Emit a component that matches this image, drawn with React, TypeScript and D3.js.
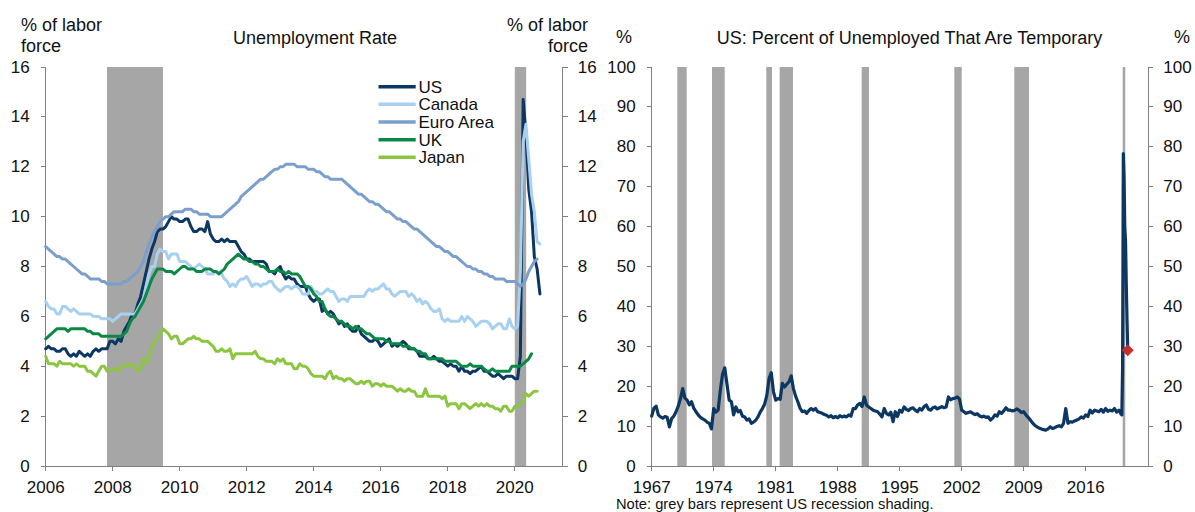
import React from 'react';
import * as d3 from 'd3';

const FONT = "'Liberation Sans', Arial, Helvetica, sans-serif";
const W = 1195;
const H = 512;

// ---- left panel: unemployment rate, monthly from Jan 2006 ----
const leftStartYear = 2006;
const usRate = [
  4.7, 4.8, 4.7, 4.7, 4.6, 4.6, 4.7, 4.7, 4.5, 4.4, 4.5, 4.4,
  4.6, 4.5, 4.4, 4.5, 4.4, 4.6, 4.7, 4.6, 4.7, 4.7, 4.7, 5.0,
  5.0, 4.9, 5.1, 5.0, 5.4, 5.6, 5.8, 6.1, 6.1, 6.5, 6.8, 7.3,
  7.8, 8.3, 8.7, 9.0, 9.4, 9.5, 9.5, 9.6, 9.8, 10.0, 9.9, 9.9,
  9.8, 9.8, 9.9, 9.9, 9.6, 9.4, 9.4, 9.5, 9.5, 9.4, 9.8, 9.3,
  9.1, 9.0, 9.0, 9.1, 9.0, 9.1, 9.0, 9.0, 9.0, 8.8, 8.6, 8.5,
  8.3, 8.3, 8.2, 8.2, 8.2, 8.2, 8.2, 8.1, 7.8, 7.8, 7.7, 7.9,
  8.0, 7.7, 7.5, 7.6, 7.5, 7.5, 7.3, 7.2, 7.2, 7.2, 6.9, 6.7,
  6.6, 6.7, 6.7, 6.2, 6.3, 6.1, 6.2, 6.1, 5.9, 5.7, 5.8, 5.6,
  5.7, 5.5, 5.4, 5.4, 5.6, 5.3, 5.2, 5.1, 5.0, 5.0, 5.1, 5.0,
  4.8, 4.9, 5.0, 5.1, 4.8, 4.9, 4.8, 4.9, 5.0, 4.9, 4.7, 4.7,
  4.7, 4.6, 4.4, 4.4, 4.4, 4.3, 4.3, 4.4, 4.3, 4.2, 4.2, 4.1,
  4.0, 4.1, 4.0, 4.0, 3.8, 4.0, 3.8, 3.8, 3.7, 3.8, 3.8, 3.9,
  4.0, 3.8, 3.8, 3.7, 3.6, 3.6, 3.7, 3.6, 3.5, 3.6, 3.6, 3.6,
  3.5, 3.5, 4.4, 14.7, 13.3, 11.1, 10.2, 8.4, 7.9, 6.9,
];
const canadaRate = [
  6.6, 6.4, 6.3, 6.3, 6.1, 6.1, 6.4, 6.4, 6.3, 6.2, 6.3, 6.2,
  6.1, 6.1, 6.1, 6.1, 6.1, 6.0, 6.0, 6.0, 5.9, 5.9, 5.9, 5.9,
  5.8, 5.9, 6.0, 6.1, 6.1, 6.1, 6.1, 6.1, 6.1, 6.3, 6.5, 6.7,
  7.2, 7.7, 8.0, 8.0, 8.5, 8.7, 8.6, 8.6, 8.3, 8.5, 8.5, 8.5,
  8.2, 8.2, 8.2, 8.1, 8.0, 7.9, 8.0, 8.1, 8.0, 7.9, 7.7, 7.7,
  7.7, 7.8, 7.7, 7.7, 7.5, 7.4, 7.2, 7.3, 7.2, 7.4, 7.5, 7.5,
  7.6, 7.4, 7.2, 7.3, 7.3, 7.2, 7.3, 7.3, 7.4, 7.4, 7.2, 7.1,
  7.0, 7.1, 7.2, 7.2, 7.1, 7.2, 7.2, 7.1, 6.9, 6.9, 6.9, 7.2,
  7.0, 7.0, 6.9, 6.9, 7.0, 7.1, 7.0, 7.0, 6.8, 6.6, 6.7, 6.7,
  6.6, 6.8, 6.8, 6.8, 6.8, 6.8, 6.8, 7.0, 7.1, 7.0, 7.1, 7.1,
  7.2, 7.3, 7.1, 7.1, 6.9, 6.8, 6.9, 7.0, 7.0, 7.0, 6.8, 6.9,
  6.8, 6.6, 6.7, 6.5, 6.6, 6.5, 6.3, 6.2, 6.2, 6.3, 5.9, 5.8,
  5.9, 5.8, 5.8, 5.8, 5.8, 6.0, 5.8, 6.0, 5.9, 5.8, 5.6, 5.7,
  5.8, 5.8, 5.8, 5.7, 5.5, 5.6, 5.7, 5.7, 5.5, 5.5, 5.9, 5.6,
  5.5, 5.6, 7.8, 13.0, 13.7, 12.3, 10.9, 10.2, 9.0, 8.9,
];
const euroRate = [
  8.8, 8.7, 8.6, 8.5, 8.4, 8.4, 8.3, 8.3, 8.2, 8.1, 8.0, 7.9,
  7.8, 7.7, 7.7, 7.6, 7.5, 7.5, 7.5, 7.5, 7.4, 7.4, 7.3, 7.3,
  7.3, 7.3, 7.3, 7.3, 7.4, 7.4, 7.5, 7.6, 7.7, 7.8, 8.0, 8.2,
  8.6, 8.9, 9.2, 9.4, 9.6, 9.8, 9.9, 10.0, 10.0, 10.1, 10.2, 10.2,
  10.2, 10.2, 10.3, 10.3, 10.3, 10.2, 10.2, 10.1, 10.1, 10.1, 10.1, 10.0,
  10.0, 10.0, 10.0, 10.0, 10.1, 10.2, 10.3, 10.4, 10.5, 10.6, 10.8, 10.9,
  11.0, 11.1, 11.2, 11.3, 11.4, 11.5, 11.5, 11.6, 11.7, 11.8, 11.9, 11.9,
  12.0, 12.0, 12.1, 12.1, 12.1, 12.1, 12.0, 12.0, 12.0, 12.0, 11.9, 11.9,
  11.9, 11.8, 11.8, 11.7, 11.6, 11.6, 11.5, 11.5, 11.5, 11.5, 11.5, 11.4,
  11.3, 11.2, 11.1, 11.0, 10.9, 10.9, 10.8, 10.7, 10.6, 10.6, 10.5, 10.5,
  10.4, 10.3, 10.2, 10.2, 10.1, 10.0, 9.9, 9.9, 9.8, 9.8, 9.7, 9.6,
  9.5, 9.5, 9.4, 9.3, 9.2, 9.1, 9.0, 8.9, 8.8, 8.8, 8.7, 8.6,
  8.6, 8.5, 8.4, 8.4, 8.3, 8.2, 8.1, 8.0, 8.0, 7.9, 7.9, 7.8,
  7.8, 7.7, 7.7, 7.6, 7.6, 7.5, 7.5, 7.5, 7.5, 7.4, 7.4, 7.4,
  7.4, 7.3, 7.2, 7.3, 7.5, 7.8, 8.0, 8.2, 8.3,
];
const ukRate = [
  5.1, 5.2, 5.3, 5.4, 5.5, 5.5, 5.5, 5.5, 5.4, 5.5, 5.5, 5.5,
  5.5, 5.5, 5.5, 5.4, 5.4, 5.3, 5.3, 5.3, 5.2, 5.2, 5.2, 5.2,
  5.2, 5.2, 5.2, 5.2, 5.3, 5.4, 5.7, 5.9, 6.0, 6.2, 6.4, 6.6,
  6.9, 7.2, 7.5, 7.7, 7.9, 7.9, 7.9, 7.8, 7.8, 7.8, 7.7, 7.8,
  7.9, 8.0, 8.0, 7.9, 7.9, 7.9, 7.8, 7.8, 7.8, 7.9, 7.9, 7.9,
  7.8, 7.8, 7.7, 7.8, 7.9, 8.1, 8.2, 8.3, 8.4, 8.5, 8.4, 8.3,
  8.3, 8.2, 8.2, 8.1, 8.1, 8.0, 8.0, 7.9, 7.8, 7.8, 7.8, 7.9,
  7.8, 7.8, 7.7, 7.8, 7.7, 7.7, 7.7, 7.6, 7.4, 7.2, 7.2, 7.1,
  6.9, 6.8, 6.6, 6.6, 6.3, 6.1, 6.0, 6.0, 5.9, 5.8, 5.8, 5.7,
  5.6, 5.6, 5.5, 5.6, 5.5, 5.5, 5.4, 5.3, 5.3, 5.2, 5.1, 5.1,
  5.1, 5.1, 5.0, 5.0, 4.9, 4.9, 4.9, 4.9, 4.8, 4.8, 4.8, 4.7,
  4.7, 4.6, 4.6, 4.5, 4.5, 4.3, 4.3, 4.3, 4.3, 4.3, 4.3, 4.2,
  4.2, 4.2, 4.2, 4.2, 4.1, 4.0, 4.0, 4.0, 4.1, 4.0, 4.0, 4.0,
  4.0, 3.9, 3.8, 3.8, 3.9, 3.8, 3.8, 3.8, 3.8, 3.8, 3.8, 4.0,
  4.0, 4.0, 4.0, 4.1, 4.2, 4.3, 4.5,
];
const japanRate = [
  4.4, 4.1, 4.1, 4.1, 4.0, 4.2, 4.1, 4.1, 4.1, 4.1, 4.0, 4.1,
  4.0, 4.0, 4.0, 3.8, 3.8, 3.7, 3.6, 3.8, 4.0, 4.0, 3.8, 3.8,
  3.9, 3.9, 3.8, 4.0, 4.0, 4.1, 4.0, 4.1, 4.0, 3.8, 3.9, 4.3,
  4.1, 4.4, 4.8, 5.0, 5.1, 5.3, 5.5, 5.4, 5.3, 5.1, 5.2, 5.2,
  4.9, 4.9, 5.0, 5.1, 5.1, 5.2, 5.1, 5.1, 5.0, 5.0, 5.0, 4.9,
  4.8, 4.6, 4.6, 4.7, 4.6, 4.6, 4.7, 4.3, 4.5, 4.5, 4.5, 4.5,
  4.5, 4.5, 4.5, 4.6, 4.4, 4.3, 4.3, 4.2, 4.2, 4.2, 4.1, 4.3,
  4.2, 4.3, 4.1, 4.1, 4.1, 3.9, 3.9, 4.1, 4.0, 4.0, 3.9, 3.7,
  3.6, 3.6, 3.6, 3.6, 3.5, 3.7, 3.8, 3.5, 3.6, 3.5, 3.5, 3.4,
  3.5, 3.5, 3.4, 3.3, 3.3, 3.4, 3.3, 3.4, 3.4, 3.2, 3.3, 3.3,
  3.2, 3.3, 3.2, 3.2, 3.2, 3.1, 3.0, 3.1, 3.0, 3.0, 3.1, 3.0,
  3.0, 2.8, 2.8, 2.8, 3.1, 2.8, 2.8, 2.8, 2.8, 2.8, 2.7, 2.8,
  2.4, 2.5, 2.5, 2.5, 2.3, 2.5, 2.5, 2.4, 2.3, 2.4, 2.5, 2.4,
  2.5, 2.4, 2.5, 2.4, 2.4, 2.3, 2.3, 2.2, 2.4, 2.4, 2.2, 2.2,
  2.4, 2.4, 2.5, 2.6, 2.9, 2.8, 2.9, 3.0, 3.0,
];

const seriesNames = ['US', 'Canada', 'Euro Area', 'UK', 'Japan'];
const seriesColors = ['#0c3763', '#a8d0f0', '#7b9fcc', '#0b8846', '#8cc540'];
const seriesValues = [usRate, canadaRate, euroRate, ukRate, japanRate];

const leftYTicks = [0, 2, 4, 6, 8, 10, 12, 14, 16];
const leftXTicks = [2006, 2008, 2010, 2012, 2014, 2016, 2018, 2020];
const leftRecStart = [2007.83, 2020.0];
const leftRecEnd = [2009.5, 2020.34];

// ---- right panel: share of unemployed on temporary layoff ----
const tempStartYear = 1967;
// quarterly readings 1967-2019
const tempQuarterly = [
  12.5, 14.5, 15.0, 12.8,
  12.3, 12.0, 12.4, 12.2,
  9.8, 11.9, 12.5, 13.6,
  15.0, 16.9, 19.4, 17.0,
  16.5, 15.3, 16.1, 14.5,
  13.6, 12.8, 12.2, 11.8,
  11.5, 11.0, 10.7, 9.3,
  14.4, 13.5, 14.0, 19.0,
  23.0, 24.6, 20.5, 16.5,
  16.1, 12.8, 14.8, 13.6,
  13.9, 12.5, 12.3, 11.5,
  11.8, 10.7, 11.0, 11.5,
  12.3, 13.5, 14.4, 15.5,
  17.7, 21.9, 23.4, 18.6,
  16.5, 16.9, 16.7, 20.7,
  19.8, 20.5, 21.1, 22.6,
  19.4, 17.5, 16.1, 14.5,
  13.6, 13.8, 13.2, 13.9,
  14.4, 14.0, 14.4, 13.6,
  13.4, 13.2, 12.9, 12.7,
  12.3, 12.6, 12.1, 12.4,
  12.1, 12.6, 12.3, 12.5,
  12.3, 12.8, 12.5, 14.4,
  14.4, 15.3, 15.7, 14.9,
  17.3, 15.3, 14.8, 14.4,
  14.0, 13.8, 13.6, 13.0,
  12.3, 14.4, 13.2, 12.8,
  13.5, 11.1, 13.6, 12.4,
  14.0, 13.5, 14.8, 14.2,
  13.9, 14.4, 14.6, 14.0,
  13.6, 14.4, 14.0, 14.9,
  15.3, 14.2, 14.0, 14.6,
  14.8, 14.3, 14.6, 14.9,
  14.6, 14.8, 17.3, 16.6,
  16.9, 17.0, 17.3, 16.8,
  14.0, 13.6, 13.2, 13.4,
  13.6, 13.2, 12.9, 13.1,
  12.6, 12.3, 12.5, 12.2,
  12.3, 11.5, 12.0, 12.8,
  12.5, 13.6, 13.2, 13.8,
  14.6, 14.0, 14.0, 13.8,
  14.0, 14.3, 13.9, 13.4,
  13.6, 12.8, 12.2, 11.5,
  10.8, 10.2, 9.8, 9.5,
  9.3, 9.1, 9.0, 9.3,
  9.8, 9.4, 9.6, 9.9,
  10.1, 9.8, 10.7, 14.4,
  10.7, 11.1, 11.0, 11.3,
  11.5, 11.8, 12.3, 12.0,
  12.8, 12.4, 14.0, 13.3,
  14.0, 13.8, 13.6, 14.2,
  13.5, 14.4, 13.7, 14.0,
  13.8, 14.4, 13.5, 14.0,
];
// monthly readings Jan-Oct 2020
const temp2020 = [13.0, 12.8, 24.7, 78.3, 72.6, 59.6, 56.5, 45.5, 36.6, 29.0];
const latestDate = 2020.75;
const latestValue = 29.0;

const rightYTicks = [0, 10, 20, 30, 40, 50, 60, 70, 80, 90, 100];
const rightXTicks = [1967, 1974, 1981, 1988, 1995, 2002, 2009, 2016];
const rightRecStart = [1969.89, 1973.81, 1979.94, 1981.45, 1990.71, 2001.17, 2007.94, 2020.18];
const rightRecEnd = [1970.95, 1975.24, 1980.58, 1982.95, 1991.53, 2002.0, 2009.6, 2020.47];

const AXIS = '#808080';
const TEXT = '#111';
const REC = '#a6a6a6';

type Pt = [number, number];

function Panel(props: {
  x: d3.ScaleLinear<number, number>;
  y: d3.ScaleLinear<number, number>;
  xTicks: number[];
  yTicks: number[];
  recStart: number[];
  recEnd: number[];
}) {
  const { x, y, xTicks, yTicks, recStart, recEnd } = props;
  const [x0, x1] = x.range();
  const [yb, yt] = y.range();
  return (
    <g>
      {recStart.map((s, i) => (
        <rect key={'r' + i} x={x(s)} y={yt} width={x(recEnd[i]) - x(s)} height={yb - yt} fill={REC} />
      ))}
      <g stroke={AXIS} strokeWidth={1} shapeRendering="crispEdges">
        <line x1={x0} x2={x0} y1={yt} y2={yb} />
        <line x1={x1} x2={x1} y1={yt} y2={yb} />
        <line x1={x0} x2={x1} y1={yb} y2={yb} />
        {yTicks.map((t) => (
          <g key={'yt' + t}>
            <line x1={x0 - 5} x2={x0} y1={y(t)} y2={y(t)} />
            <line x1={x1} x2={x1 + 5} y1={y(t)} y2={y(t)} />
          </g>
        ))}
        {xTicks.map((t) => (
          <line key={'xt' + t} x1={x(t)} x2={x(t)} y1={yb} y2={yb + 5} />
        ))}
      </g>
      <g fontSize={17} fill={TEXT}>
        {yTicks.map((t) => (
          <g key={'yl' + t}>
            <text x={x0 - 16} y={y(t)} textAnchor="end" dominantBaseline="central">{t}</text>
            <text x={x1 + 15} y={y(t)} textAnchor="start" dominantBaseline="central">{t}</text>
          </g>
        ))}
        {xTicks.map((t) => (
          <text key={'xl' + t} x={x(t)} y={493} textAnchor="middle">{t}</text>
        ))}
      </g>
    </g>
  );
}

export default function App() {
  const xL = d3.scaleLinear().domain([2006, 2021.43]).range([45.7, 562.7]);
  const yL = d3.scaleLinear().domain([0, 16]).range([466, 67]);
  const xR = d3.scaleLinear().domain([1967, 2023.07]).range([651.7, 1148.3]);
  const yR = d3.scaleLinear().domain([0, 100]).range([466, 67]);

  const lineL = d3.line<Pt>().x((d) => xL(d[0])).y((d) => yL(d[1]));
  const lineR = d3.line<Pt>().x((d) => xR(d[0])).y((d) => yR(d[1]));

  const leftSeries = seriesValues.map((vals) =>
    vals.map((v, i) => [leftStartYear + i / 12, v] as Pt)
  );
  const tempSeries: Pt[] = tempQuarterly
    .map((v, i) => [tempStartYear + i / 4, v] as Pt)
    .concat(temp2020.map((v, i) => [2020 + i / 12, v] as Pt));

  const dx = xR(latestDate);
  const dy = yR(latestValue);
  const ds = 6;

  return (
    <svg
      width={W}
      height={H}
      style={{ position: 'absolute', left: 0, top: 0, background: '#fff' }}
      fontFamily={FONT}
    >
      <rect width={W} height={H} fill="#fff" />

      {/* left panel */}
      <Panel x={xL} y={yL} xTicks={leftXTicks} yTicks={leftYTicks} recStart={leftRecStart} recEnd={leftRecEnd} />
      {leftSeries.map((pts, i) => (
        <path key={seriesNames[i]} d={lineL(pts) || ''} fill="none" stroke={seriesColors[i]}
          strokeWidth={3} strokeLinejoin="round" strokeLinecap="round" />
      ))}
      <g fontSize={18} fill={TEXT}>
        <text x={21} y={31}>% of labor</text>
        <text x={21} y={52}>force</text>
        <text x={588} y={31} textAnchor="end">% of labor</text>
        <text x={588} y={52} textAnchor="end">force</text>
        <text x={315} y={44} textAnchor="middle">Unemployment Rate</text>
      </g>
      <g fontSize={17} fill={TEXT}>
        {seriesNames.map((n, i) => {
          const ly = 86.7 + i * 17.65;
          return (
            <g key={'lg' + n}>
              <line x1={378.5} x2={415.7} y1={ly} y2={ly} stroke={seriesColors[i]} strokeWidth={3.5} />
              <text x={418.4} y={ly + 6}>{n}</text>
            </g>
          );
        })}
      </g>

      {/* right panel */}
      <Panel x={xR} y={yR} xTicks={rightXTicks} yTicks={rightYTicks} recStart={rightRecStart} recEnd={rightRecEnd} />
      <path d={lineR(tempSeries) || ''} fill="none" stroke="#0c3763" strokeWidth={3.2}
        strokeLinejoin="round" strokeLinecap="round" />
      <path d={`M${dx},${dy - ds}L${dx + ds},${dy}L${dx},${dy + ds}L${dx - ds},${dy}Z`} fill="#c4312d" />
      <g fontSize={18} fill={TEXT}>
        <text x={616} y={43}>%</text>
        <text x={1190} y={43} textAnchor="end">%</text>
        <text x={909.5} y={44} textAnchor="middle">US: Percent of Unemployed That Are Temporary</text>
      </g>
      <text x={616} y={508.5} fontSize={14.7} fill={TEXT}>Note: grey bars represent US recession shading.</text>
    </svg>
  );
}
